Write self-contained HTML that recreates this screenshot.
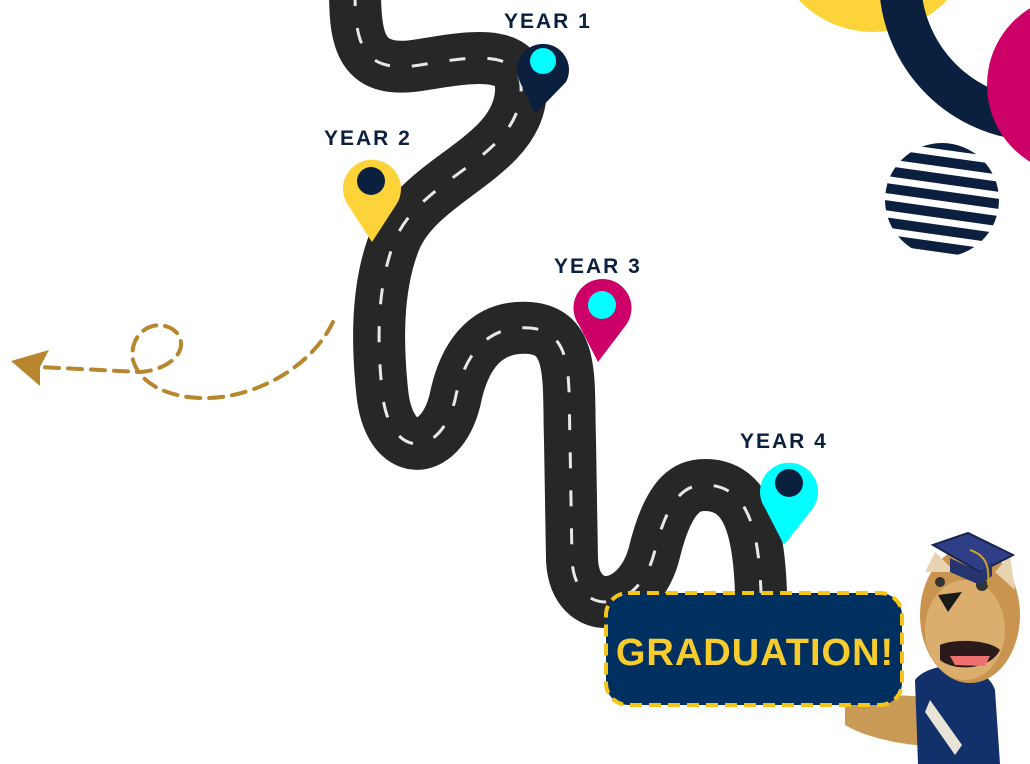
<!DOCTYPE html>
<html><head><meta charset="utf-8"><style>
html,body{margin:0;padding:0;background:#fff;}
svg{display:block;}
.lbl{font-family:"Liberation Sans",sans-serif;font-weight:bold;font-size:21px;fill:#0b1f3f;letter-spacing:2px;}
</style></head><body>
<svg width="1030" height="764" viewBox="0 0 1030 764" xmlns="http://www.w3.org/2000/svg">
<circle cx="873" cy="-70" r="102" fill="#fdd33a"/>
<circle cx="1040" cy="-20" r="140" fill="none" stroke="#0b1f3f" stroke-width="42"/>
<circle cx="1077" cy="85" r="90" fill="#cc0066"/>
<defs>
<clipPath id="sc"><circle cx="942" cy="200" r="57"/></clipPath>
</defs>
<g clip-path="url(#sc)" fill="#0b1f3f">
<g transform="rotate(8 942 200)">
<rect x="870" y="140" width="150" height="10"/>
<rect x="870" y="157" width="150" height="10"/>
<rect x="870" y="174" width="150" height="10"/>
<rect x="870" y="191" width="150" height="10"/>
<rect x="870" y="208" width="150" height="10"/>
<rect x="870" y="225" width="150" height="10"/>
<rect x="870" y="242" width="150" height="10"/>
</g></g>
<path d="M333,322 C310,370 250,400 200,398 C170,397 140,385 133,360 C128,330 160,315 177,333 C190,350 170,370 140,372 L40,367" fill="none" stroke="#b8862e" stroke-width="4" stroke-dasharray="14,9" stroke-linecap="round"/>
<path d="M11,361 L49,350 L40,367 L40,386 Z" fill="#b8862e"/>
<path d="M355,-10 C355,40 360,75 420,65 C470,57 530,45 520,100 C510,160 420,180 395,240 C375,290 378,350 382,390 C388,460 440,460 455,400 C465,350 490,325 530,328 C575,332 568,380 570,440 L572,560 C575,620 640,615 655,550 C670,490 690,485 705,485 C760,485 760,560 762,620" fill="none" stroke="#272727" stroke-width="52"/>
<path d="M355,-10 C355,40 360,75 420,65 C470,57 530,45 520,100 C510,160 420,180 395,240 C375,290 378,350 382,390 C388,460 440,460 455,400 C465,350 490,325 530,328 C575,332 568,380 570,440 L572,560 C575,620 640,615 655,550 C670,490 690,485 705,485 C760,485 760,560 762,620" fill="none" stroke="#e8e8e8" stroke-width="3" stroke-dasharray="16,22"/>
<path d="M535,114 L520,82 A26,26 0 1 1 566,82 Z" fill="#0b1f3f"/>
<circle cx="543" cy="61" r="13" fill="#00ffff"/>
<path d="M372,242 L348,205 A29,29 0 1 1 396,205 Z" fill="#fdd33a"/>
<circle cx="371" cy="181" r="14" fill="#0b1f3f"/>
<path d="M598,362 L579,325 A29,29 0 1 1 626,325 Z" fill="#cc0066"/>
<circle cx="602" cy="305" r="14" fill="#00ffff"/>
<path d="M784,545 L765,508 A29,29 0 1 1 813,508 Z" fill="#00ffff"/>
<circle cx="789" cy="483" r="14" fill="#0b1f3f"/>
<text class="lbl" x="504" y="28">YEAR 1</text>
<text class="lbl" x="324" y="145">YEAR 2</text>
<text class="lbl" x="554" y="273">YEAR 3</text>
<text class="lbl" x="740" y="448">YEAR 4</text>
<!-- mascot -->
<path d="M845,705 C880,690 930,695 960,705 L965,745 C920,750 870,740 845,725 Z" fill="#c99a55"/>
<path d="M915,680 C930,660 985,660 995,690 L1000,764 L918,764 Z" fill="#12306a"/>
<path d="M930,700 L962,745 L955,755 L925,712 Z" fill="#e8e4d8"/>
<ellipse cx="970" cy="615" rx="50" ry="68" fill="#c8944f"/>
<ellipse cx="965" cy="630" rx="40" ry="50" fill="#dcae6e"/>
<path d="M925,572 L935,552 L955,572 Z M995,572 L1010,555 L1015,590 Z" fill="#e9d2b0"/>
<path d="M938,595 L962,592 L948,612 Z" fill="#1a1a1a"/>
<path d="M940,645 C955,638 990,640 1000,650 C990,670 955,672 940,660 Z" fill="#2a1a1a"/>
<path d="M950,656 L990,656 L985,666 L955,665 Z" fill="#f07070"/>
<circle cx="940" cy="582" r="5" fill="#333"/>
<circle cx="982" cy="585" r="6" fill="#333"/>
<path d="M933,545 L968,533 L1013,555 L980,572 Z" fill="#2e3f88" stroke="#1a2450" stroke-width="2"/>
<path d="M950,558 L980,572 L992,562 L992,576 L980,585 L950,572 Z" fill="#26346f"/>
<path d="M970,550 C985,555 990,565 988,585" fill="none" stroke="#c9a227" stroke-width="2"/>
<rect x="606" y="593" width="296" height="112" rx="22" fill="#00305f" stroke="#f5c518" stroke-width="4" stroke-dasharray="12,7"/>
<text x="755" y="665" text-anchor="middle" font-family="Liberation Sans, sans-serif" font-weight="bold" font-size="38" fill="#f8cc2d" letter-spacing="1">GRADUATION!</text>
</svg>
</body></html>
